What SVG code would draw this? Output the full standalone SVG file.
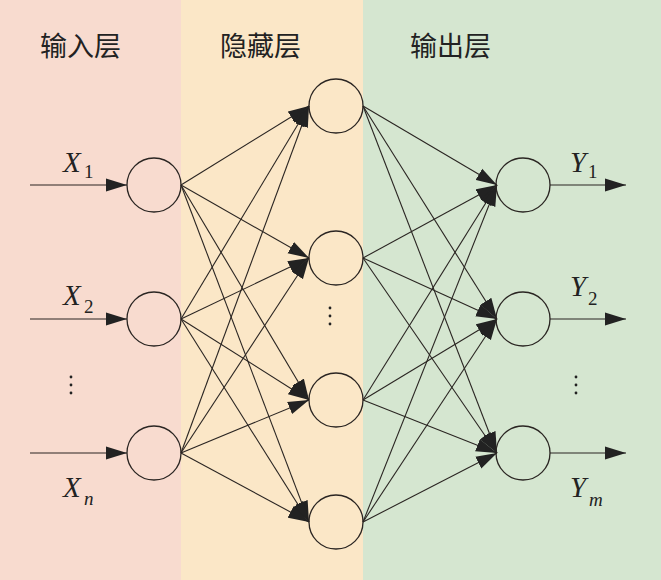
<svg xmlns="http://www.w3.org/2000/svg" width="661" height="580" viewBox="0 0 661 580">
<style>
.node{fill:none;stroke:#2a2522;stroke-width:1.3}
.edge{stroke:#2a2522;stroke-width:1.1;fill:none}
.title{font-family:"Noto Sans CJK SC","Noto Sans CJK JP",sans-serif;font-size:27px;fill:#222}
.var{font-family:"Liberation Serif","Times New Roman",serif;font-style:italic;font-size:29px;fill:#222}
.sub{font-family:"Liberation Serif","Times New Roman",serif;font-size:19px;fill:#222}
.subi{font-family:"Liberation Serif","Times New Roman",serif;font-style:italic;font-size:19px;fill:#222}
.dots{fill:#222}
</style>
<defs>
<marker id="ah" markerUnits="userSpaceOnUse" markerWidth="22" markerHeight="14" refX="21" refY="7" orient="auto">
<path d="M0,0.5 L21,7 L0,13.5 z" fill="#222"/>
</marker>
</defs>
<g id="background">
<rect x="0" y="0" width="181" height="580" fill="#f8dbcf"/>
<rect x="181" y="0" width="182" height="580" fill="#fbe7c7"/>
<rect x="363" y="0" width="298" height="580" fill="#d5e6d0"/>
</g>
<g id="titles">
<text class="title" x="40" y="56">输入层</text>
<text class="title" x="220" y="56">隐藏层</text>
<text class="title" x="410" y="56">输出层</text>
</g>
<g id="connectors">
<line class="edge" x1="30" y1="185" x2="127" y2="185" marker-end="url(#ah)"/>
<line class="edge" x1="30" y1="319" x2="127" y2="319" marker-end="url(#ah)"/>
<line class="edge" x1="30" y1="453" x2="127" y2="453" marker-end="url(#ah)"/>
<line class="edge" x1="181" y1="185" x2="309" y2="106" marker-end="url(#ah)"/>
<line class="edge" x1="181" y1="185" x2="309" y2="258" marker-end="url(#ah)"/>
<line class="edge" x1="181" y1="185" x2="309" y2="400" marker-end="url(#ah)"/>
<line class="edge" x1="181" y1="185" x2="309" y2="522" marker-end="url(#ah)"/>
<line class="edge" x1="181" y1="319" x2="309" y2="106" marker-end="url(#ah)"/>
<line class="edge" x1="181" y1="319" x2="309" y2="258" marker-end="url(#ah)"/>
<line class="edge" x1="181" y1="319" x2="309" y2="400" marker-end="url(#ah)"/>
<line class="edge" x1="181" y1="319" x2="309" y2="522" marker-end="url(#ah)"/>
<line class="edge" x1="181" y1="453" x2="309" y2="106" marker-end="url(#ah)"/>
<line class="edge" x1="181" y1="453" x2="309" y2="258" marker-end="url(#ah)"/>
<line class="edge" x1="181" y1="453" x2="309" y2="400" marker-end="url(#ah)"/>
<line class="edge" x1="181" y1="453" x2="309" y2="522" marker-end="url(#ah)"/>
<line class="edge" x1="363" y1="106" x2="497" y2="185" marker-end="url(#ah)"/>
<line class="edge" x1="363" y1="106" x2="497" y2="319" marker-end="url(#ah)"/>
<line class="edge" x1="363" y1="106" x2="497" y2="453" marker-end="url(#ah)"/>
<line class="edge" x1="363" y1="258" x2="497" y2="185" marker-end="url(#ah)"/>
<line class="edge" x1="363" y1="258" x2="497" y2="319" marker-end="url(#ah)"/>
<line class="edge" x1="363" y1="258" x2="497" y2="453" marker-end="url(#ah)"/>
<line class="edge" x1="363" y1="400" x2="497" y2="185" marker-end="url(#ah)"/>
<line class="edge" x1="363" y1="400" x2="497" y2="319" marker-end="url(#ah)"/>
<line class="edge" x1="363" y1="400" x2="497" y2="453" marker-end="url(#ah)"/>
<line class="edge" x1="363" y1="522" x2="497" y2="185" marker-end="url(#ah)"/>
<line class="edge" x1="363" y1="522" x2="497" y2="319" marker-end="url(#ah)"/>
<line class="edge" x1="363" y1="522" x2="497" y2="453" marker-end="url(#ah)"/>
<line class="edge" x1="550" y1="185" x2="626" y2="185" marker-end="url(#ah)"/>
<line class="edge" x1="550" y1="319" x2="626" y2="319" marker-end="url(#ah)"/>
<line class="edge" x1="550" y1="453" x2="626" y2="453" marker-end="url(#ah)"/>
</g>
<g id="in1"><circle class="node" cx="154" cy="185" r="27"/></g>
<g id="in2"><circle class="node" cx="154" cy="319" r="27"/></g>
<g id="inn"><circle class="node" cx="154" cy="453" r="27"/></g>
<g id="h1"><circle class="node" cx="336" cy="106" r="27"/></g>
<g id="h2"><circle class="node" cx="336" cy="258" r="27"/></g>
<g id="h3"><circle class="node" cx="336" cy="400" r="27"/></g>
<g id="h4"><circle class="node" cx="336" cy="522" r="27"/></g>
<g id="out1"><circle class="node" cx="523" cy="185" r="27"/></g>
<g id="out2"><circle class="node" cx="523" cy="319" r="27"/></g>
<g id="outm"><circle class="node" cx="523" cy="453" r="27"/></g>
<g id="labels">
<text class="var" x="63" y="172">X</text><text class="sub" x="84" y="178">1</text>
<text class="var" x="63" y="305">X</text><text class="sub" x="84" y="313">2</text>
<text class="var" x="63" y="497">X</text><text class="subi" x="84" y="505">n</text>
<text class="var" x="570" y="172">Y</text><text class="sub" x="588" y="178">1</text>
<text class="var" x="570" y="296">Y</text><text class="sub" x="588" y="305">2</text>
<text class="var" x="570" y="497">Y</text><text class="subi" x="589" y="506">m</text>
</g>
<g id="ellipses">
<circle class="dots" cx="71" cy="377" r="1.4"/><circle class="dots" cx="71" cy="385" r="1.4"/><circle class="dots" cx="71" cy="393" r="1.4"/>
<circle class="dots" cx="330" cy="308" r="1.4"/><circle class="dots" cx="330" cy="316" r="1.4"/><circle class="dots" cx="330" cy="324" r="1.4"/>
<circle class="dots" cx="576" cy="377" r="1.4"/><circle class="dots" cx="576" cy="385" r="1.4"/><circle class="dots" cx="576" cy="393" r="1.4"/>
</g>
</svg>
